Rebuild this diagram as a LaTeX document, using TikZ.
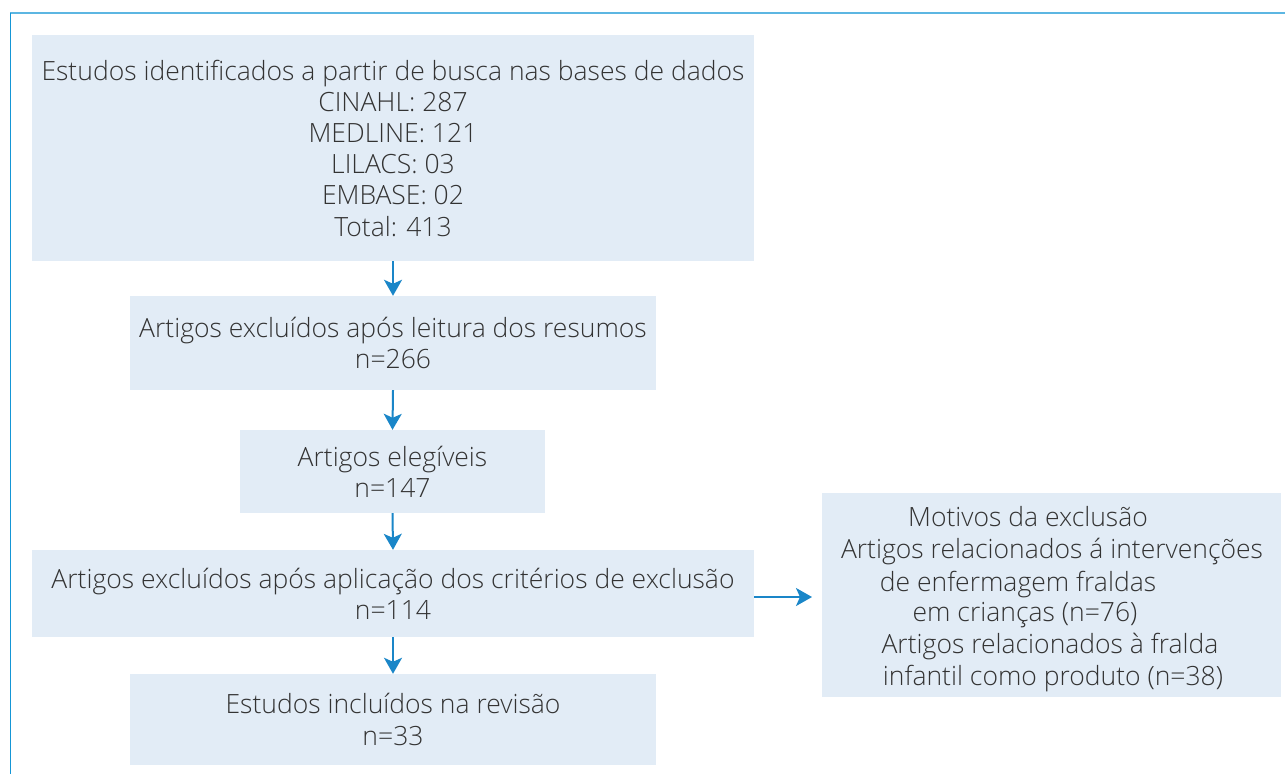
\documentclass[tikz,border=0pt]{standalone}
\usepackage{fontspec}
\setmainfont{Open Sans Light}
\usetikzlibrary{arrows.meta}
\definecolor{boxfill}{HTML}{E2ECF6}
\definecolor{arrowblue}{HTML}{1A86C8}
\definecolor{frametop}{HTML}{5CB6E2}
\definecolor{frameleft}{HTML}{1596D6}
\definecolor{txt}{HTML}{333333}
\tikzset{
  box/.style={fill=boxfill, inner sep=0pt, align=center, text=txt,
    font=\fontsize{26.5}{31.2}\selectfont},
  txtline/.style={inner sep=0pt, anchor=base, text=txt,
    font=\fontsize{26.5}{31.2}\selectfont},
  arr/.style={draw=arrowblue, line width=2pt,
    -{Stealth[length=16pt,width=18pt,inset=4pt]}},
}
\begin{document}
\begin{tikzpicture}[x=1pt,y=-1pt]
\useasboundingbox (0,0) rectangle (1285,774);
\fill[white] (0,0) rectangle (1285,774);
% frame
\draw[frametop, line width=1.6pt] (10,13) -- (1285,13);
\draw[frameleft, line width=1.2pt] (10.7,13) -- (10.7,774);
% boxes
\node[box, minimum width=722pt, minimum height=226pt] (b1) at (393,148)
  {Estudos identificados a partir de busca nas bases de dados\\
   CINAHL: 287\\ MEDLINE: 121\\ LILACS: 03\\ EMBASE: 02\\ Total: 413};
\node[box, minimum width=526pt, minimum height=94pt] (b2) at (393,343)
  {Artigos excluídos após leitura dos resumos\\ n=266};
\node[box, minimum width=305pt, minimum height=83pt] (b3) at (392.5,471.5)
  {Artigos elegíveis\\ n=147};
\node[box, minimum width=722pt, minimum height=87pt] (b4) at (393,593.5)
  {Artigos excluídos após aplicação dos critérios de exclusão\\ n=114};
\node[box, minimum width=526pt, minimum height=91pt] (b5) at (393,719.5)
  {Estudos incluídos na revisão\\ n=33};
\node[fill=boxfill, inner sep=0pt, minimum width=459pt, minimum height=204pt] (b6) at (1051.5,595) {};
\node[txtline] (m1) at (1028,526) {Motivos da exclusão};
\node[txtline] (m2) at (1052,558) {Artigos relacionados á intervenções};
\node[txtline] (m3) at (1018,591) {de enfermagem fraldas};
\node[txtline] (m4) at (1025,621) {em crianças (n=76)};
\node[txtline] (m5) at (1050,653) {Artigos relacionados à fralda};
\node[txtline] (m6) at (1053,685) {infantil como produto (n=38)};
% arrows
\draw[arr] (b1.south) -- (b2.north);
\draw[arr] (b2.south) -- (b3.north);
\draw[arr] (b3.south) -- (b4.north);
\draw[arr] (b4.south) -- (b5.north);
\coordinate (h2) at (812,597);
\draw[arr] (b4.east |- h2) -- (h2);
\end{tikzpicture}
\end{document}
